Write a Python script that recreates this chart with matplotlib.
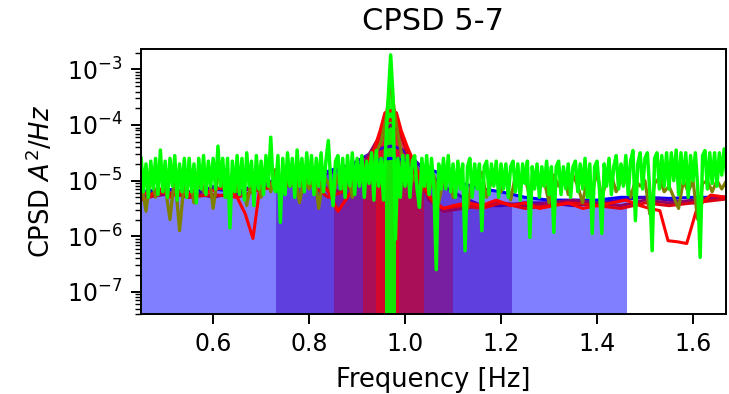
import numpy as np
import matplotlib
matplotlib.use("Agg")
import matplotlib.pyplot as plt
from matplotlib.patches import Rectangle

# smooth estimates (coarse -> fine), log10 of CPSD
f_coarse = [0.45, 0.50, 0.55, 0.60, 0.65, 0.70, 0.75, 0.80, 0.85, 0.90, 0.93, 0.95, 0.97, 0.99, 1.01,
            1.04, 1.08, 1.12, 1.16, 1.20, 1.25, 1.30, 1.35, 1.40, 1.45, 1.50, 1.55, 1.60, 1.65, 1.70]
blue_log = [-5.2, -5.15, -5.2, -5.15, -5.2, -5.05, -4.95, -4.95, -4.8, -4.7, -4.65, -4.62, -4.6, -4.62, -4.65,
            -4.75, -4.9, -5.05, -5.15, -5.2, -5.3, -5.35, -5.35, -5.35, -5.3, -5.3, -5.32, -5.3, -5.3, -5.3]
violet_log = [-5.25, -5.2, -5.3, -5.1, -5.25, -5.0, -5.05, -4.95, -4.85, -4.65, -4.5, -4.42, -4.38, -4.42, -4.55,
              -4.8, -5.1, -5.3, -5.45, -5.45, -5.4, -5.4, -5.45, -5.4, -5.35, -5.3, -5.35, -5.4, -5.3, -5.3]

f_mid = [0.45, 0.50, 0.55, 0.60, 0.65, 0.70, 0.75, 0.80, 0.84, 0.87, 0.90, 0.92, 0.94, 0.955, 0.97, 0.985, 1.00,
         1.02, 1.05, 1.08, 1.12, 1.16, 1.20, 1.25, 1.30, 1.35, 1.40, 1.45, 1.50, 1.55, 1.60, 1.65, 1.70]
purple_log = [-5.3, -5.25, -5.2, -5.3, -5.2, -5.1, -5.05, -5.0, -5.15, -5.2, -4.9, -4.6, -4.3, -4.1, -4.0, -4.1,
              -4.35, -4.75, -5.35, -5.55, -5.5, -5.45, -5.4, -5.45, -5.4, -5.35, -5.4, -5.45, -5.35, -5.4, -5.35,
              -5.3, -5.3]
crimson_log = [-5.35, -5.2, -5.3, -5.25, -5.3, -5.15, -5.1, -5.05, -5.3, -5.2, -4.95, -4.7, -4.35, -4.0, -3.9,
               -4.0, -4.4, -4.85, -5.3, -5.5, -5.45, -5.5, -5.4, -5.5, -5.45, -5.4, -5.45, -5.5, -5.4, -5.45,
               -5.4, -5.35, -5.3]

f_red = [0.45, 0.47, 0.49, 0.51, 0.53, 0.55, 0.57, 0.59, 0.61, 0.63, 0.65, 0.667, 0.683, 0.70, 0.72, 0.74,
         0.76, 0.78, 0.80, 0.82, 0.84, 0.86, 0.88, 0.90, 0.92, 0.935, 0.948, 0.958, 0.97, 0.982, 0.992, 1.005,
         1.02, 1.04, 1.06, 1.08, 1.10, 1.13, 1.16, 1.19, 1.22, 1.25, 1.28, 1.31, 1.34, 1.37, 1.40, 1.43, 1.46,
         1.49, 1.51, 1.531, 1.548, 1.568, 1.587, 1.609, 1.637, 1.67]
red_log = [-5.2, -5.25, -5.15, -5.3, -5.2, -5.25, -5.1, -5.2, -5.15, -5.1, -5.3, -5.6, -6.04, -4.95, -5.05,
           -5.1, -5.0, -5.05, -5.1, -5.0, -5.2, -5.55, -5.3, -5.0, -4.7, -4.45, -4.1, -3.78, -3.74, -3.78, -4.1,
           -4.4, -4.7, -5.1, -5.4, -5.5, -5.45, -5.4, -5.45, -5.35, -5.45, -5.4, -5.5, -5.45, -5.4, -5.5, -5.45,
           -5.4, -5.35, -5.45, -5.5, -5.54, -6.08, -6.1, -6.13, -5.48, -5.26, -5.3]

# noisy estimates
f_olive = np.round(np.arange(0.45, 1.6701, 0.01), 3)
olive_log = [-5.0, -5.55, -4.9, -5.3, -4.8, -5.1, -5.7, -4.9, -5.9, -5.0,
             -4.85, -5.4, -4.95, -5.2, -4.8, -5.5, -4.9, -5.1, -5.3, -4.85,
             -5.2, -4.9, -5.45, -5.0, -4.85, -5.3, -4.9, -5.2, -4.8, -5.35,
             -4.9, -5.1, -4.85, -5.4, -4.95, -5.15, -4.8, -5.5, -4.9, -5.05,
             -5.3, -4.9, -5.15, -4.8, -5.3, -4.85, -5.0, -4.7, -4.9, -4.5,
             -4.3, -3.9, -3.2, -3.9, -4.4, -4.8, -5.1, -4.9, -5.3, -4.95,
             -5.2, -4.9, -5.4, -5.0, -4.85, -5.3, -4.9, -5.1, -5.5, -4.95,
             -5.1, -4.85, -5.3, -5.0, -4.9, -5.2, -4.95, -5.35, -4.9, -5.1,
             -4.95, -5.3, -4.85, -5.15, -5.0, -5.4, -4.9, -5.1, -4.85, -5.25,
             -4.9, -5.1, -5.4, -4.95, -5.2, -4.85, -5.3, -5.0, -4.9, -5.2,
             -5.0, -4.95, -5.3, -5.0, -5.1, -5.0, -5.6, -5.05, -4.95, -5.2,
             -5.1, -5.3, -5.5, -5.0, -5.2, -5.0, -5.7, -5.05, -5.0, -5.2,
             -5.0, -5.15, -5.0]

f_green = np.round(np.arange(0.45, 1.6701, 0.005), 3)
green_log = [-4.6, -5.2, -4.7, -5.3, -4.65, -5.15, -4.6, -5.25, -4.45, -5.2,
             -4.65, -5.3, -4.6, -5.1, -4.55, -5.35, -4.7, -5.2, -4.6, -5.3,
             -4.6, -5.2, -4.7, -5.4, -4.6, -5.15, -4.55, -5.25, -4.65, -5.1,
             -4.6, -5.15, -4.38, -5.1, -4.6, -5.3, -4.6, -5.85, -4.65, -5.2,
             -4.55, -5.25, -4.6, -5.35, -4.5, -5.1, -4.65, -5.45, -4.55, -5.15,
             -4.65, -5.25, -4.55, -5.1, -4.22, -5.05, -5.2, -4.55, -5.75, -4.6,
             -5.25, -4.5, -5.1, -4.6, -5.3, -4.45, -5.1, -4.6, -5.2, -4.5,
             -5.05, -4.55, -5.25, -4.6, -5.1, -4.5, -5.2, -4.65, -4.28, -5.0,
             -5.45, -4.65, -4.55, -5.15, -4.6, -5.3, -4.55, -5.1, -4.5, -5.25,
             -4.6, -5.1, -4.55, -5.3, -4.65, -5.05, -4.5, -5.35, -4.46, -5.1,
             -4.6, -5.35, -4.3, -3.5, -2.74, -3.5, -6.05, -4.6, -5.3, -4.55,
             -5.1, -4.55, -5.3, -4.65, -4.55, -5.15, -5.48, -4.6, -5.1, -4.55,
             -5.25, -4.6, -5.1, -6.6, -4.7, -5.15, -4.6, -5.15, -4.55, -5.2,
             -4.7, -5.3, -4.65, -5.15, -4.7, -6.26, -4.75, -4.6, -5.3, -4.7,
             -5.15, -4.7, -5.9, -4.75, -4.65, -5.25, -4.7, -5.1, -4.65, -5.3,
             -4.7, -5.15, -4.7, -5.3, -4.75, -4.65, -5.2, -4.7, -5.35, -4.7,
             -5.05, -4.65, -6.02, -4.75, -5.15, -4.7, -5.3, -4.75, -5.1, -4.65,
             -5.25, -4.75, -5.93, -4.75, -4.65, -5.25, -4.75, -5.15, -4.7, -5.3,
             -4.75, -4.65, -5.2, -4.7, -5.15, -4.6, -5.3, -4.7, -5.95, -4.75,
             -4.65, -5.15, -5.95, -4.7, -5.1, -4.6, -5.25, -4.75, -4.55, -5.15,
             -4.7, -5.1, -4.55, -5.25, -4.65, -4.46, -5.72, -4.7, -4.5, -5.15,
             -4.6, -4.5, -5.2, -6.26, -4.6, -4.5, -5.15, -4.55, -5.1, -4.5,
             -5.15, -4.5, -5.0, -4.45, -5.25, -4.5, -5.05, -4.5, -5.3, -4.55,
             -5.0, -4.5, -5.15, -6.38, -4.55, -4.46, -5.15, -4.5, -5.05, -4.5,
             -5.1, -4.5, -4.9, -4.43, -4.9]

# frequency band shaded under each estimate
bands = [(0.44, 1.461), (0.730, 1.220), (0.851, 1.098), (0.9125, 1.037), (0.940, 0.985), (0.959, 0.982)]

freqs = [f_coarse, f_coarse, f_mid, f_mid, f_red, f_green]
logs = [blue_log, violet_log, purple_log, crimson_log, red_log, green_log]
colors = ['#0000ff', '#4000bf', '#900064', '#dc0014', '#ff0000', '#00ff00']
fill_alpha = [0.5, 0.5, 0.5, 0.5, 0.5, 0.9]

xmin, xmax = 0.449, 1.669
ymin, ymax = 4e-8, 2.3e-3

plt.rcParams['font.family'] = 'DejaVu Sans'
fig = plt.figure(figsize=(7.29, 3.94), dpi=100)
ax = fig.add_axes([0.193, 0.203, 0.803, 0.672])
ax.set_yscale('log')

for f, v, (lo, hi), c, a in zip(freqs, logs, bands, colors, fill_alpha):
    lo, hi = max(lo, xmin), min(hi, xmax)
    poly = ax.fill_between(f, 1e-10, 10 ** np.array(v), color=c, alpha=a, lw=0)
    poly.set_clip_path(Rectangle((lo, ymin), hi - lo, ymax - ymin, transform=ax.transData))

for f, v, c in zip(freqs[:5], logs[:5], colors[:5]):
    ax.plot(f, 10 ** np.array(v), color=c, lw=2.2)
ax.plot(f_olive, 10 ** np.array(olive_log), color='#7f8000', lw=2.3)
ax.plot(f_green, 10 ** np.array(green_log), color='#00ff00', lw=2.5)

ax.set_xlim(xmin, xmax)
ax.set_ylim(ymin, ymax)
ax.set_xticks([0.6, 0.8, 1.0, 1.2, 1.4, 1.6])
ax.tick_params(which='major', length=7, width=1.4, labelsize=17, pad=6)
ax.tick_params(axis='y', which='minor', length=4, width=1.0)
for s in ax.spines.values():
    s.set_linewidth(1.4)

ax.set_xlabel('Frequency [Hz]', fontsize=18.5, labelpad=8)
ax.set_ylabel('CPSD $A^2/Hz$', fontsize=18.5, labelpad=8)
ax.set_title('CPSD 5-7', fontsize=22, pad=14)

fig.savefig('out.png', dpi=100)
